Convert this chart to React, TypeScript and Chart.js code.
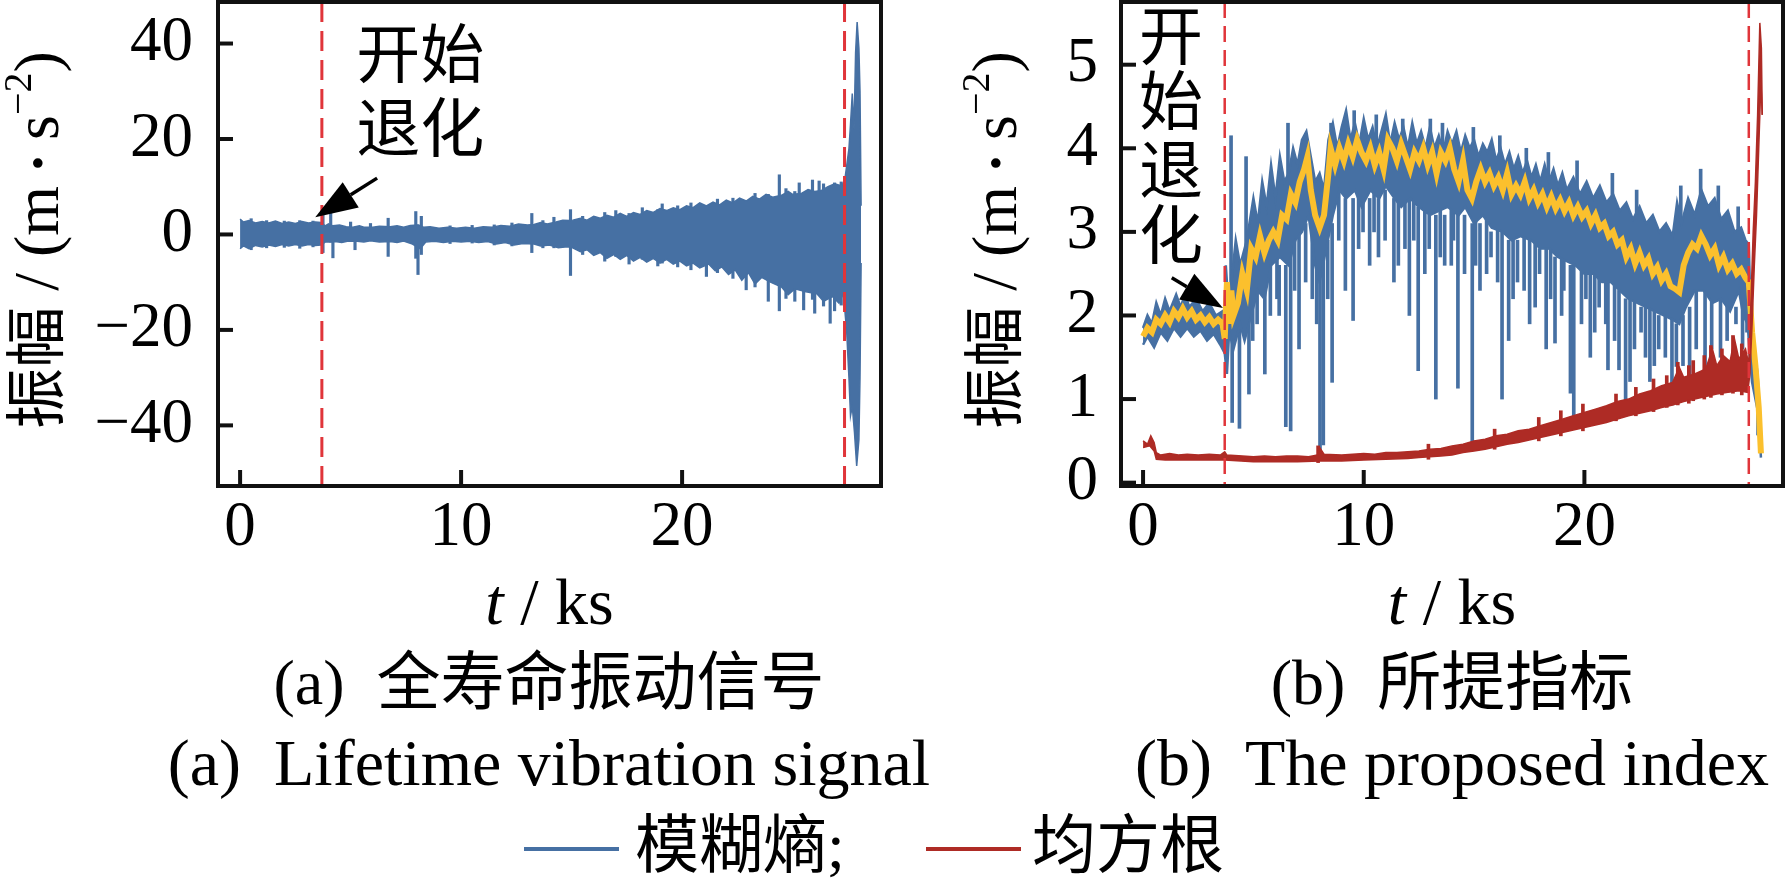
import React, { useEffect, useRef } from "react";
import { Chart, registerables } from "chart.js";

Chart.register(...registerables);

type Pt = [number, number];
type Spike = [number, number, number]; // t, low, high

const FONT = '"Liberation Serif", "Noto Sans CJK SC", serif';
const BLUE = "#4670a3";
const YELLOW = "#fbc02d";
const RED = "#ae2b25";
const DASH = "#e0353a";

// tick values
const timeTicks = [0, 10, 20];
const vibTicks = [-40, -20, 0, 20, 40];
const indexTicks = [0, 1, 2, 3, 4, 5];

// start of degradation / failure (ks)
const vibMarkers = [3.7, 27.35];
const indexMarkers = [3.7, 27.45];

// (a) vibration signal: upper and lower envelope (t ks, m/s^2)
const vibUpper: Pt[] = [
  [0, 3.2], [0.15, 2.6], [0.4, 2.9], [0.7, 2.4], [1.0, 2.7], [1.3, 2.4], [1.6, 2.8], [1.9, 2.3], [2.2, 2.6], [2.5, 2.3],
  [2.8, 2.7], [3.1, 2.4], [3.4, 2.6], [3.65, 2.5], [3.85, 1.8], [4.0, 2.2], [4.2, 1.8], [4.5, 2.0], [4.8, 1.6], [5.1, 1.5],
  [5.4, 1.8], [5.6, 1.5], [6.0, 1.5], [6.3, 1.7], [6.8, 1.6], [7.1, 1.8], [7.4, 1.5], [7.7, 1.9], [8.05, 2.0], [8.3, 1.5],
  [8.6, 1.6], [9.0, 1.3], [9.4, 1.5], [9.8, 1.3], [10.2, 1.5], [10.6, 1.3], [11.0, 1.6], [11.4, 1.5], [11.8, 1.9], [12.2, 1.7],
  [12.6, 2.2], [13.0, 2.0], [13.3, 2.1], [13.6, 2.5], [13.9, 2.2], [14.3, 2.6], [14.6, 3.0], [14.9, 2.9], [15.05, 3.0], [15.4, 3.4],
  [15.7, 3.0], [16.0, 3.8], [16.3, 3.4], [16.6, 4.0], [16.9, 3.6], [17.2, 4.4], [17.5, 3.8], [17.8, 4.6], [18.1, 4.2], [18.4, 5.0],
  [18.7, 4.6], [19.0, 5.4], [19.3, 5.0], [19.6, 5.6], [19.9, 5.2], [20.2, 6.0], [20.5, 5.6], [20.8, 6.6], [21.1, 6.0], [21.4, 6.8],
  [21.7, 6.2], [22.0, 7.2], [22.3, 6.6], [22.6, 7.6], [22.9, 7.0], [23.2, 8.0], [23.5, 7.4], [23.8, 8.4], [24.1, 7.8], [24.5, 8.2],
  [24.8, 9.0], [25.0, 8.4], [25.4, 8.6], [25.7, 9.4], [26.0, 9.0], [26.3, 9.2], [26.6, 10.0], [26.9, 10.6], [27.2, 10.2], [27.35, 11.0],
  [27.45, 14.5], [27.55, 18], [27.62, 23], [27.7, 29.5], [27.78, 22], [27.85, 38], [27.92, 44.5], [28.0, 39], [28.05, 30], [28.1, 6],
];
const vibLower: Pt[] = [
  [0, -3.0], [0.15, -2.4], [0.4, -3.0], [0.7, -2.3], [1.0, -2.6], [1.3, -2.2], [1.6, -2.5], [1.9, -2.1], [2.2, -2.4], [2.5, -2.1],
  [2.8, -2.4], [3.1, -2.1], [3.4, -2.3], [3.65, -2.2], [3.85, -1.6], [4.1, -1.6], [4.3, -1.5], [4.6, -1.7], [4.9, -1.4], [5.3, -1.4],
  [5.6, -1.6], [5.9, -1.3], [6.3, -1.6], [6.8, -1.5], [7.1, -1.7], [7.4, -1.4], [7.8, -2.0], [8.15, -3.0], [8.4, -1.6], [8.8, -1.4],
  [9.2, -1.7], [9.6, -1.4], [10.0, -1.6], [10.4, -1.4], [10.8, -1.7], [11.2, -1.5], [11.6, -2.0], [12.0, -1.7], [12.4, -2.2], [12.8, -1.9],
  [13.3, -2.0], [13.6, -2.4], [14.0, -2.2], [14.4, -2.8], [14.8, -2.6], [15.05, -2.8], [15.4, -3.6], [15.7, -3.2], [16.0, -4.4], [16.3, -3.8],
  [16.6, -5.0], [16.9, -4.2], [17.2, -5.2], [17.5, -4.4], [17.8, -5.6], [18.1, -4.8], [18.4, -5.8], [18.7, -5.0], [19.0, -6.0], [19.3, -5.2],
  [19.6, -6.2], [19.9, -5.6], [20.2, -6.6], [20.5, -6.0], [20.8, -7.0], [21.2, -6.2], [21.5, -7.6], [21.8, -6.8], [22.1, -8.4], [22.4, -7.4],
  [22.7, -9.6], [23.0, -8.0], [23.3, -10.4], [23.6, -9.0], [24.0, -10.0], [24.5, -11.0], [24.8, -12.6], [25.1, -11.4], [25.6, -12.0], [26.1, -12.4],
  [26.4, -14.0], [26.8, -13.0], [27.1, -14.4], [27.3, -12.3], [27.45, -20.6], [27.55, -30], [27.62, -38], [27.7, -36], [27.8, -41.5], [27.9, -48.5],
  [28.0, -43], [28.05, -30], [28.1, -6],
];
// (a) isolated impulses sticking out of the band
const vibSpikes: Spike[] = [
  [0.5, -3.2, 3.3], [1.2, -2.8, 2.9], [2.0, -2.7, 2.8], [2.7, -2.9, 2.9], [3.3, -2.6, 2.8], [3.75, -3.8, 4.0], [4.1, -1.6, 4.8],
  [4.2, -4.9, 1.8], [5.0, -1.4, 2.6], [5.2, -3.2, 1.5], [5.9, -1.3, 2.3], [6.7, -4.6, 3.4], [7.95, -5.0, 4.8], [8.05, -8.4, 2.0],
  [8.2, -4.2, 3.8], [9.5, -1.9, 1.8], [10.5, -1.8, 1.9], [11.5, -2.2, 2.0], [12.3, -2.4, 2.4], [13.2, -3.8, 4.4], [13.7, -2.8, 2.9],
  [14.2, -2.8, 3.6], [14.95, -8.6, 5.2], [15.5, -4.2, 3.8], [16.5, -5.6, 4.6], [17.0, -4.6, 5.0], [17.6, -6.2, 4.4], [18.2, -5.2, 5.6],
  [18.9, -6.6, 5.2], [19.1, -6.0, 6.4], [19.8, -6.8, 6.0], [20.4, -7.4, 6.6], [21.1, -8.8, 6.0], [21.6, -8.0, 7.4], [22.3, -9.2, 7.6],
  [22.9, -11.6, 7.0], [23.3, -11.0, 8.6], [23.9, -14.0, 8.4], [24.4, -16.0, 12.5], [24.7, -13.4, 9.6], [25.1, -14.0, 9.0], [25.3, -11.4, 10.8],
  [25.5, -15.8, 8.6], [25.9, -13.6, 11.4], [26.0, -16.5, 9.0], [26.2, -12.4, 11.2], [26.4, -15.0, 10.6], [26.7, -18.6, 10.0], [26.9, -16.0, 10.8],
  [27.2, -14.8, 11.0],
];

// (b) fuzzy entropy: edges of the noisy trace
const entropyUpper: Pt[] = [
  [0, 1.85], [0.2, 2.0], [0.4, 1.9], [0.6, 2.15], [0.8, 2.0], [1.0, 2.2], [1.2, 2.05], [1.5, 2.25], [1.7, 2.1], [1.9, 2.25],
  [2.1, 2.1], [2.4, 2.2], [2.7, 2.05], [3.0, 2.15], [3.3, 2.0], [3.6, 2.05], [3.7, 1.95], [3.75, 2.6], [3.85, 2.2], [4.0, 2.4],
  [4.2, 2.9], [4.4, 2.6], [4.7, 2.9], [5.0, 3.4], [5.2, 3.1], [5.4, 3.6], [5.6, 3.3], [5.8, 3.8], [6.0, 3.4], [6.2, 3.9],
  [6.4, 3.6], [6.6, 3.7], [6.8, 4.0], [7.0, 3.8], [7.2, 4.1], [7.4, 4.2], [7.6, 3.9], [7.8, 3.6], [8.0, 3.7], [8.2, 3.5],
  [8.4, 4.1], [8.6, 4.3], [8.8, 4.0], [9.0, 4.25], [9.2, 4.45], [9.4, 4.1], [9.6, 4.3], [9.8, 4.05], [10.0, 4.35], [10.2, 4.1],
  [10.4, 4.25], [10.6, 4.0], [10.8, 4.2], [11.0, 4.4], [11.2, 4.05], [11.4, 4.3], [11.6, 4.1], [11.8, 4.25], [12.0, 4.0], [12.2, 4.3],
  [12.4, 4.05], [12.6, 4.2], [12.8, 4.0], [13.0, 4.25], [13.2, 4.0], [13.4, 4.15], [13.6, 3.95], [13.8, 4.2], [14.0, 4.05], [14.2, 4.2],
  [14.4, 3.95], [14.6, 4.15], [14.8, 4.0], [15.0, 4.1], [15.2, 3.9], [15.4, 4.05], [15.6, 3.95], [15.8, 4.1], [16.0, 3.85], [16.2, 4.0],
  [16.4, 3.8], [16.6, 3.95], [16.8, 3.75], [17.0, 3.9], [17.2, 3.7], [17.4, 3.85], [17.6, 3.65], [17.8, 3.8], [18.0, 3.6], [18.2, 3.8],
  [18.4, 3.6], [18.6, 3.75], [18.8, 3.55], [19.0, 3.7], [19.2, 3.5], [19.5, 3.65], [19.8, 3.45], [20.1, 3.6], [20.4, 3.4], [20.7, 3.55],
  [21.0, 3.35], [21.3, 3.45], [21.6, 3.25], [21.9, 3.35], [22.2, 3.15], [22.5, 3.3], [22.8, 3.1], [23.1, 3.2], [23.4, 3.0], [23.7, 3.1],
  [24.0, 2.95], [24.2, 3.35], [24.4, 3.1], [24.7, 3.4], [25.0, 3.2], [25.3, 3.5], [25.6, 3.3], [25.9, 3.4], [26.2, 3.15], [26.5, 3.25],
  [26.8, 3.0], [27.1, 3.05], [27.3, 2.9], [27.45, 2.85], [27.55, 1.85], [27.7, 1.6], [27.85, 1.3], [28.0, 0.4],
];
const entropyLower: Pt[] = [
  [0, 1.65], [0.2, 1.75], [0.5, 1.62], [0.8, 1.8], [1.1, 1.7], [1.4, 1.85], [1.7, 1.75], [2.0, 1.85], [2.3, 1.75], [2.6, 1.82],
  [2.9, 1.7], [3.2, 1.78], [3.5, 1.65], [3.7, 1.55], [3.8, 1.3], [3.9, 1.8], [4.1, 1.6], [4.4, 1.9], [4.6, 1.7], [4.9, 2.0],
  [5.2, 2.3], [5.5, 2.2], [5.8, 2.6], [6.2, 2.7], [6.6, 2.6], [6.9, 2.9], [7.2, 3.0], [7.5, 3.2], [7.8, 2.6], [8.0, 2.4],
  [8.3, 2.8], [8.6, 3.2], [8.9, 3.5], [9.2, 3.4], [9.6, 3.5], [9.9, 3.3], [10.3, 3.5], [10.7, 3.4], [11.0, 3.55], [11.4, 3.4],
  [11.7, 3.3], [12.1, 3.4], [12.5, 3.3], [13.0, 3.2], [13.4, 3.25], [13.8, 3.3], [14.3, 3.2], [14.6, 3.3], [15.0, 3.1], [15.4, 3.2],
  [15.8, 3.05], [16.3, 3.0], [16.7, 2.9], [17.1, 2.95], [17.6, 2.9], [18.0, 2.8], [18.4, 2.8], [18.8, 2.7], [19.2, 2.65], [19.6, 2.6],
  [20.0, 2.5], [20.4, 2.5], [20.8, 2.4], [21.2, 2.4], [21.6, 2.3], [22.0, 2.2], [22.4, 2.15], [22.8, 2.1], [23.2, 2.05], [23.6, 2.0],
  [24.0, 1.95], [24.3, 1.9], [24.6, 2.1], [25.0, 2.3], [25.4, 2.3], [25.8, 2.15], [26.2, 2.2], [26.6, 2.05], [27.0, 2.3], [27.2, 2.0],
  [27.4, 1.9], [27.5, 1.5], [27.6, 1.2], [27.9, 0.8], [28.0, 0.3],
];
// (b) fuzzy entropy: single drops and peaks
const entropySpikes: Spike[] = [
  [3.92, 2.2, 4.15], [3.97, 0.72, 1.8], [4.3, 0.65, 1.9], [4.6, 2.6, 3.9], [4.73, 1.06, 2.0], [4.9, 1.7, 2.2], [5.1, 1.9, 2.4],
  [5.45, 1.3, 2.3], [5.7, 2.0, 2.7], [6.0, 2.2, 2.7], [6.1, 2.0, 2.6], [6.4, 0.67, 2.6], [6.5, 3.4, 4.3], [6.62, 0.62, 2.8],
  [6.8, 2.3, 3.0], [7.0, 1.6, 3.0], [7.3, 2.4, 3.1], [7.6, 2.2, 3.1], [7.8, 1.9, 2.7], [7.95, 0.35, 3.0], [8.1, 0.45, 3.0],
  [8.3, 2.2, 2.9], [8.45, 3.8, 4.3], [8.5, 1.2, 3.1], [8.8, 2.9, 3.5], [9.1, 2.3, 3.4], [9.45, 1.94, 3.4], [9.5, 3.9, 4.45],
  [9.7, 2.8, 3.5], [9.9, 3.0, 3.5], [10.2, 2.6, 3.4], [10.4, 3.0, 3.5], [10.5, 4.0, 4.4], [10.6, 2.7, 3.4], [10.9, 2.9, 3.5],
  [11.3, 2.4, 3.4], [11.5, 2.6, 3.4], [11.7, 4.0, 4.35], [11.8, 2.8, 3.4], [12.0, 2.0, 3.4], [12.2, 2.9, 3.4], [12.4, 1.34, 3.3],
  [12.7, 2.5, 3.3], [12.9, 2.8, 3.2], [12.95, 3.9, 4.35], [13.2, 1.0, 3.2], [13.4, 2.7, 3.3], [13.5, 3.9, 4.3], [13.6, 2.6, 3.2],
  [13.9, 2.6, 3.3], [14.0, 2.9, 3.3], [14.2, 1.13, 3.2], [14.5, 2.5, 3.2], [14.85, 0.45, 3.1], [14.9, 3.8, 4.25], [15.0, 2.6, 3.2],
  [15.2, 2.3, 3.1], [15.5, 2.5, 3.2], [15.7, 2.7, 3.0], [16.0, 2.4, 3.1], [16.1, 3.6, 4.15], [16.2, 1.0, 3.0], [16.5, 1.7, 2.9],
  [16.7, 2.2, 3.0], [16.9, 2.4, 2.9], [17.2, 2.3, 3.0], [17.3, 3.4, 4.0], [17.45, 1.9, 2.9], [17.7, 2.1, 2.9], [17.9, 2.5, 2.8],
  [18.2, 1.6, 2.8], [18.3, 3.4, 3.95], [18.4, 2.2, 2.8], [18.6, 1.67, 2.7], [18.9, 2.0, 2.8], [19.0, 2.3, 2.7], [19.3, 1.07, 2.6],
  [19.45, 0.7, 2.6], [19.6, 3.3, 3.85], [19.8, 1.9, 2.6], [20.0, 2.2, 2.6], [20.2, 1.5, 2.5], [20.4, 1.8, 2.6], [20.6, 2.1, 2.5],
  [20.9, 1.9, 2.5], [21.0, 1.35, 2.4], [21.2, 3.1, 3.7], [21.3, 1.7, 2.4], [21.5, 1.35, 2.3], [21.8, 0.8, 2.2], [22.0, 1.21, 2.2],
  [22.2, 1.6, 2.3], [22.3, 2.9, 3.5], [22.5, 1.8, 2.1], [22.7, 1.5, 2.2], [22.9, 1.21, 2.1], [23.1, 1.4, 2.1], [23.3, 1.6, 2.0],
  [23.6, 1.5, 2.1], [23.9, 0.93, 2.0], [24.1, 1.39, 1.9], [24.3, 2.9, 3.55], [24.4, 1.4, 2.0], [24.7, 1.27, 2.1], [25.0, 1.6, 2.4],
  [25.2, 3.2, 3.75], [25.4, 1.2, 2.3], [25.7, 1.6, 2.3], [26.0, 3.0, 3.55], [26.1, 1.5, 2.2], [26.4, 1.7, 2.3], [26.8, 1.9, 2.1],
  [26.9, 2.8, 3.3], [27.1, 1.6, 2.4], [27.3, 1.8, 2.2], [27.8, 0.57, 1.0],
];
// (b) smoothed fuzzy entropy (yellow)
const entropySmooth: Pt[] = [
  [0, 1.75], [0.2, 1.85], [0.4, 1.8], [0.6, 1.95], [0.8, 1.9], [1.0, 2.0], [1.2, 1.92], [1.4, 2.05], [1.6, 1.98], [1.8, 2.08],
  [2.0, 1.98], [2.2, 2.05], [2.4, 1.95], [2.6, 2.0], [2.8, 1.92], [3.0, 1.98], [3.2, 1.9], [3.4, 1.95], [3.6, 1.9], [3.7, 1.72],
  [3.8, 2.4], [3.9, 1.9], [4.0, 2.3], [4.1, 2.0], [4.3, 2.15], [4.5, 2.5], [4.7, 2.3], [4.9, 2.8], [5.1, 2.7], [5.3, 2.95],
  [5.5, 2.75], [5.7, 2.9], [5.9, 3.0], [6.1, 2.9], [6.3, 3.2], [6.5, 3.15], [6.7, 3.45], [6.9, 3.35], [7.1, 3.6], [7.3, 3.75],
  [7.45, 3.9], [7.6, 3.5], [7.8, 3.2], [8.0, 3.05], [8.2, 3.2], [8.4, 3.7], [8.5, 4.0], [8.7, 3.8], [8.9, 4.0], [9.1, 3.85],
  [9.3, 4.05], [9.5, 3.9], [9.7, 4.1], [9.9, 3.95], [10.1, 3.85], [10.3, 4.0], [10.5, 3.8], [10.7, 3.95], [10.9, 3.75], [11.1, 4.1],
  [11.3, 4.0], [11.5, 3.85], [11.7, 4.05], [11.9, 3.9], [12.1, 3.75], [12.3, 3.95], [12.5, 3.85], [12.7, 4.0], [12.9, 3.8], [13.1, 3.95],
  [13.3, 3.7], [13.5, 3.95], [13.7, 3.85], [13.9, 4.0], [14.1, 3.75], [14.3, 3.6], [14.5, 3.85], [14.7, 3.5], [14.9, 3.4], [15.1, 3.6],
  [15.3, 3.75], [15.5, 3.6], [15.7, 3.7], [15.9, 3.55], [16.1, 3.65], [16.3, 3.5], [16.5, 3.7], [16.7, 3.45], [16.9, 3.55], [17.1, 3.45],
  [17.3, 3.6], [17.5, 3.4], [17.7, 3.5], [17.9, 3.35], [18.1, 3.45], [18.3, 3.3], [18.5, 3.42], [18.7, 3.28], [18.9, 3.38], [19.1, 3.25],
  [19.3, 3.35], [19.5, 3.2], [19.7, 3.3], [19.9, 3.18], [20.1, 3.25], [20.3, 3.1], [20.5, 3.2], [20.7, 3.05], [20.9, 3.1], [21.1, 2.95],
  [21.3, 3.0], [21.5, 2.85], [21.7, 2.9], [21.9, 2.7], [22.1, 2.8], [22.3, 2.62], [22.5, 2.75], [22.7, 2.6], [22.9, 2.68], [23.1, 2.5],
  [23.3, 2.58], [23.5, 2.42], [23.7, 2.5], [23.9, 2.35], [24.1, 2.32], [24.3, 2.28], [24.5, 2.6], [24.7, 2.75], [24.9, 2.85], [25.1, 2.8],
  [25.3, 2.95], [25.5, 2.85], [25.7, 2.72], [25.9, 2.8], [26.1, 2.6], [26.3, 2.7], [26.5, 2.55], [26.7, 2.62], [26.9, 2.5], [27.1, 2.55],
  [27.3, 2.45], [27.45, 2.4], [27.6, 1.8], [27.75, 1.4], [27.9, 0.9], [28.0, 0.35],
];
// (b) RMS: upper / lower edge
const rmsUpper: Pt[] = [
  [0, 0.5], [0.2, 0.46], [0.35, 0.56], [0.5, 0.48], [0.6, 0.36], [0.8, 0.33], [1.2, 0.35], [1.6, 0.33], [2.0, 0.34], [2.5, 0.33],
  [3.0, 0.34], [3.5, 0.33], [3.7, 0.37], [3.8, 0.33], [4.5, 0.32], [5.0, 0.31], [5.5, 0.32], [6.0, 0.31], [6.5, 0.32], [7.0, 0.32],
  [7.5, 0.31], [7.9, 0.33], [8.0, 0.42], [8.2, 0.34], [9.0, 0.33], [9.5, 0.34], [10.0, 0.35], [10.5, 0.34], [11.0, 0.36], [11.5, 0.36],
  [12.0, 0.37], [12.5, 0.38], [13.0, 0.4], [13.5, 0.41], [14.0, 0.44], [14.5, 0.46], [15.0, 0.5], [15.5, 0.52], [16.0, 0.56], [16.5, 0.58],
  [17.0, 0.62], [17.5, 0.64], [18.0, 0.68], [18.5, 0.72], [19.0, 0.76], [19.5, 0.8], [20.0, 0.84], [20.5, 0.88], [21.0, 0.92], [21.5, 0.97],
  [22.0, 1.0], [22.5, 1.06], [23.0, 1.1], [23.5, 1.16], [24.0, 1.2], [24.3, 1.38], [24.5, 1.26], [25.0, 1.3], [25.5, 1.36], [25.8, 1.6],
  [26.0, 1.4], [26.3, 1.52], [26.6, 1.45], [26.8, 1.72], [27.0, 1.48], [27.3, 1.6], [27.45, 1.42], [27.55, 2.2], [27.65, 3.0], [27.75, 3.6],
  [27.85, 4.4], [27.95, 5.5], [28.02, 5.2], [28.06, 4.4],
];
const rmsLower: Pt[] = [
  [0, 0.42], [0.3, 0.44], [0.5, 0.38], [0.6, 0.28], [1.0, 0.27], [2.0, 0.27], [3.0, 0.27], [3.7, 0.27], [5.0, 0.25], [6.0, 0.25],
  [7.0, 0.25], [8.0, 0.26], [9.0, 0.26], [10.0, 0.27], [11.0, 0.28], [12.0, 0.29], [12.5, 0.3], [13.0, 0.31], [13.5, 0.32], [14.0, 0.33],
  [14.5, 0.36], [15.0, 0.38], [15.5, 0.4], [16.0, 0.43], [16.5, 0.46], [17.0, 0.48], [17.5, 0.51], [18.0, 0.54], [18.5, 0.57], [19.0, 0.6],
  [19.5, 0.63], [20.0, 0.66], [20.5, 0.69], [21.0, 0.72], [21.5, 0.76], [22.0, 0.8], [22.5, 0.83], [23.0, 0.86], [23.5, 0.9], [24.0, 0.93],
  [24.5, 0.97], [25.0, 1.0], [25.5, 1.03], [26.0, 1.06], [26.5, 1.08], [27.0, 1.1], [27.4, 1.08], [27.5, 1.3], [27.6, 1.9], [27.7, 2.6],
  [27.8, 3.2], [27.9, 4.0], [28.0, 4.8], [28.06, 4.4],
];
// (b) RMS: single bursts
const rmsSpikes: Spike[] = [
  [8.0, 0.24, 0.44], [13.0, 0.28, 0.46], [16.0, 0.4, 0.64], [18.0, 0.5, 0.78], [19.0, 0.56, 0.86], [20.0, 0.62, 0.94], [21.5, 0.74, 1.06],
  [22.4, 0.8, 1.14], [23.2, 0.85, 1.24], [23.8, 0.9, 1.28], [24.3, 0.93, 1.44], [24.8, 0.95, 1.4], [25.0, 0.98, 1.46], [25.5, 1.0, 1.52],
  [25.8, 1.02, 1.64], [26.3, 1.05, 1.6], [26.8, 1.07, 1.76], [27.2, 1.05, 1.66],
];

const xy = (pts: Pt[]) => pts.map(([x, y]) => ({ x, y }));
const bars = (s: Spike[]) => s.map(([x, lo, hi]) => ({ x, y: [lo, hi] }));
const minus = (v: number) => (v < 0 ? "\u2212" + Math.abs(v) : String(v));

type Seg = { text: string; size: number; italic?: boolean; rise?: number };

// draws a run of text pieces centred on the baseline point (cx, cy), optionally rotated
function drawSegs(ctx: CanvasRenderingContext2D, segs: Seg[], cx: number, cy: number, rotate: boolean) {
  ctx.save();
  ctx.translate(cx, cy);
  if (rotate) ctx.rotate(-Math.PI / 2);
  ctx.textAlign = "left";
  ctx.textBaseline = "alphabetic";
  ctx.fillStyle = "#000";
  const fontOf = (s: Seg) => `${s.italic ? "italic " : ""}${s.size}px ${FONT}`;
  const widths = segs.map((s) => {
    ctx.font = fontOf(s);
    return ctx.measureText(s.text).width;
  });
  let x = -widths.reduce((a, b) => a + b, 0) / 2;
  segs.forEach((s, i) => {
    ctx.font = fontOf(s);
    ctx.fillText(s.text, x, -(s.rise ?? 0));
    x += widths[i];
  });
  ctx.restore();
}

const yTitle: Seg[] = [
  { text: "振幅", size: 61 },
  { text: " / (m ", size: 64 },
  { text: "•", size: 40, rise: 6 },
  { text: " s", size: 64 },
  { text: "\u22122", size: 40, rise: 27 },
  { text: ")", size: 64 },
];
const xTitle: Seg[] = [
  { text: "t", size: 66, italic: true },
  { text: " / ks", size: 66 },
];

type Decor = {
  yTicks: number[];
  markers: number[];
  dash: number[];
  dashWidth: number;
  yTitleX: number;
  notes: { text: string; t: number; v: number }[];
  arrow: { from: Pt; to: Pt };
};

const makeDecor = (d: Decor) => ({
  id: "decor",
  afterDatasetsDraw(chart: Chart) {
    const { ctx, chartArea: a } = chart;
    const xs = chart.scales.x;
    ctx.save();
    ctx.strokeStyle = DASH;
    ctx.lineWidth = d.dashWidth;
    ctx.setLineDash(d.dash);
    d.markers.forEach((m) => {
      const px = xs.getPixelForValue(m);
      ctx.beginPath();
      ctx.moveTo(px, a.top);
      ctx.lineTo(px, a.bottom);
      ctx.stroke();
    });
    ctx.restore();
  },
  afterDraw(chart: Chart) {
    const { ctx, chartArea: a } = chart;
    const xs = chart.scales.x;
    const ys = chart.scales.y;
    ctx.save();
    ctx.strokeStyle = "#111";
    ctx.fillStyle = "#000";
    ctx.lineWidth = 4;
    ctx.strokeRect(a.left, a.top, a.right - a.left, a.bottom - a.top);
    // inward ticks
    timeTicks.forEach((v) => {
      const px = xs.getPixelForValue(v);
      ctx.beginPath();
      ctx.moveTo(px, a.bottom);
      ctx.lineTo(px, a.bottom - 16);
      ctx.stroke();
    });
    d.yTicks.forEach((v) => {
      const py = ys.getPixelForValue(v);
      ctx.beginPath();
      ctx.moveTo(a.left, py);
      ctx.lineTo(a.left + 15, py);
      ctx.stroke();
    });
    // annotation text
    ctx.font = `64px ${FONT}`;
    ctx.textAlign = "center";
    ctx.textBaseline = "middle";
    d.notes.forEach((n) => ctx.fillText(n.text, xs.getPixelForValue(n.t), ys.getPixelForValue(n.v)));
    // arrow
    const fx = xs.getPixelForValue(d.arrow.from[0]);
    const fy = ys.getPixelForValue(d.arrow.from[1]);
    const tx = xs.getPixelForValue(d.arrow.to[0]);
    const ty = ys.getPixelForValue(d.arrow.to[1]);
    const ang = Math.atan2(ty - fy, tx - fx);
    const hl = 42;
    const hw = 15;
    const bx = tx - hl * Math.cos(ang);
    const by = ty - hl * Math.sin(ang);
    ctx.lineWidth = 3.5;
    ctx.strokeStyle = "#000";
    ctx.beginPath();
    ctx.moveTo(fx, fy);
    ctx.lineTo(bx, by);
    ctx.stroke();
    ctx.beginPath();
    ctx.moveTo(tx, ty);
    ctx.lineTo(bx + hw * Math.sin(ang), by - hw * Math.cos(ang));
    ctx.lineTo(bx - hw * Math.sin(ang), by + hw * Math.cos(ang));
    ctx.closePath();
    ctx.fill();
    ctx.restore();
    // axis titles
    drawSegs(ctx, yTitle, d.yTitleX, (a.top + a.bottom) / 2 - 4, true);
    drawSegs(ctx, xTitle, (a.left + a.right) / 2, 624, false);
  },
});

const noPad = (s: any) => {
  s.paddingTop = 0;
  s.paddingBottom = 0;
  s.paddingLeft = 0;
  s.paddingRight = 0;
};

const baseScales = (yMin: number, yMax: number, yTicks: number[], yWidth: number, yPad: number) => ({
  x: {
    type: "linear" as const,
    min: -1,
    max: 29,
    offset: false,
    grid: { display: false, drawTicks: false, offset: false },
    border: { display: false },
    ticks: { font: { size: 63 }, padding: 5, maxRotation: 0, minRotation: 0, autoSkip: false, callback: (v: any) => minus(v) },
    afterBuildTicks: (s: any) => {
      s.ticks = timeTicks.map((value) => ({ value }));
    },
    afterFit: (s: any) => {
      s.height = 154;
      noPad(s);
    },
  },
  y: {
    type: "linear" as const,
    min: yMin,
    max: yMax,
    grid: { display: false, drawTicks: false },
    border: { display: false },
    ticks: { font: { size: 63 }, padding: yPad, autoSkip: false, callback: (v: any) => minus(v) },
    afterBuildTicks: (s: any) => {
      s.ticks = yTicks.map((value) => ({ value }));
    },
    afterFit: (s: any) => {
      s.width = yWidth;
      noPad(s);
    },
  },
});

const common = {
  animation: false as const,
  responsive: false,
  devicePixelRatio: 1,
  plugins: { legend: { display: false }, tooltip: { enabled: false } },
  elements: { point: { radius: 0 }, line: { tension: 0 } },
};

const caption = (cx: number, top: number, size = 64): React.CSSProperties => ({
  position: "absolute",
  left: cx,
  top,
  transform: "translateX(-50%)",
  whiteSpace: "nowrap",
  fontSize: size,
  lineHeight: `${size}px`,
});

export default function App() {
  const leftRef = useRef<HTMLCanvasElement>(null);
  const rightRef = useRef<HTMLCanvasElement>(null);

  useEffect(() => {
    document.body.style.margin = "0";
    Chart.defaults.font.family = FONT;
    Chart.defaults.color = "#000";
    if (!leftRef.current || !rightRef.current) return;

    const left = new Chart(leftRef.current, {
      type: "line",
      data: {
        datasets: [
          { data: xy(vibUpper), borderColor: BLUE, borderWidth: 1.5, fill: false },
          { data: xy(vibLower), borderColor: BLUE, backgroundColor: BLUE, borderWidth: 1.5, fill: 0 },
          { type: "bar", data: bars(vibSpikes), backgroundColor: BLUE, barThickness: 2.5 },
        ],
      },
      options: {
        ...common,
        layout: { padding: { top: 2, right: 19, left: 0, bottom: 0 } },
        scales: baseScales(-52.7, 48.7, vibTicks, 218, 25),
      } as any,
      plugins: [
        makeDecor({
          yTicks: vibTicks,
          markers: vibMarkers,
          dash: [20, 9],
          dashWidth: 3,
          yTitleX: 58,
          notes: [
            { text: "开始", t: 8.15, v: 36.5 },
            { text: "退化", t: 8.15, v: 21.0 },
          ],
          arrow: { from: [6.2, 11.8], to: [3.4, 3.6] },
        }),
      ],
    } as any);

    const right = new Chart(rightRef.current, {
      type: "line",
      data: {
        datasets: [
          { data: xy(rmsUpper), borderColor: RED, borderWidth: 1.5, fill: false, order: 1 },
          { data: xy(rmsLower), borderColor: RED, backgroundColor: RED, borderWidth: 1.5, fill: 0, order: 1 },
          { type: "bar", data: bars(rmsSpikes), backgroundColor: RED, barThickness: 3, order: 1 },
          { data: xy(entropySmooth), borderColor: YELLOW, borderWidth: 6, fill: false, order: 2 },
          { data: xy(entropyUpper), borderColor: BLUE, borderWidth: 2.5, fill: false, order: 3 },
          { data: xy(entropyLower), borderColor: BLUE, backgroundColor: BLUE, borderWidth: 2.5, fill: 4, order: 3 },
          { type: "bar", data: bars(entropySpikes), backgroundColor: BLUE, barThickness: 3, order: 4 },
        ],
      },
      options: {
        ...common,
        layout: { padding: { top: 2, right: 2, left: 0, bottom: 0 } },
        scales: baseScales(-0.04, 5.75, indexTicks, 191, 23),
      } as any,
      plugins: [
        makeDecor({
          yTicks: indexTicks,
          markers: indexMarkers,
          dash: [16, 8],
          dashWidth: 2.5,
          yTitleX: 86,
          notes: [
            { text: "开", t: 1.27, v: 5.27 },
            { text: "始", t: 1.27, v: 4.49 },
            { text: "退", t: 1.27, v: 3.67 },
            { text: "化", t: 1.27, v: 2.89 },
          ],
          arrow: { from: [1.3, 2.45], to: [3.62, 2.09] },
        }),
      ],
    } as any);

    return () => {
      left.destroy();
      right.destroy();
    };
  }, []);

  return (
    <div
      style={{
        position: "relative",
        width: 1785,
        height: 883,
        overflow: "hidden",
        background: "#fff",
        color: "#000",
        fontFamily: FONT,
      }}
    >
      <canvas ref={leftRef} width={900} height={640} style={{ position: "absolute", left: 0, top: 0 }} />
      <canvas ref={rightRef} width={855} height={640} style={{ position: "absolute", left: 930, top: 0 }} />
      <div style={caption(549, 651)}>(a)&ensp;全寿命振动信号</div>
      <div style={caption(549, 730, 66)}>(a)&ensp;Lifetime vibration signal</div>
      <div style={caption(1452, 651)}>(b)&ensp;所提指标</div>
      <div style={caption(1452, 730, 66)}>(b)&ensp;The proposed index</div>
      <div style={{ position: "absolute", left: 524, top: 847, width: 95, height: 4, background: BLUE }} />
      <div style={{ position: "absolute", left: 635, top: 814, fontSize: 64, lineHeight: "64px", whiteSpace: "nowrap" }}>模糊熵;</div>
      <div style={{ position: "absolute", left: 926, top: 847, width: 95, height: 4, background: RED }} />
      <div style={{ position: "absolute", left: 1032, top: 814, fontSize: 64, lineHeight: "64px", whiteSpace: "nowrap" }}>均方根</div>
    </div>
  );
}
